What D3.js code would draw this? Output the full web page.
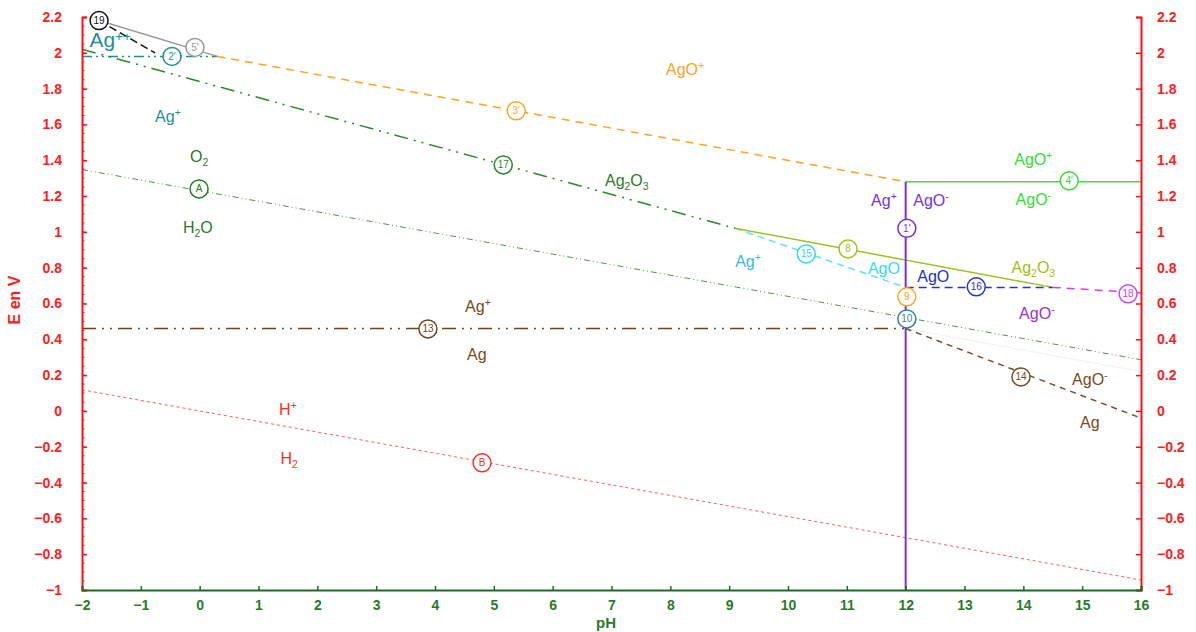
<!DOCTYPE html>
<html>
<head>
<meta charset="utf-8">
<script src="https://cdn.jsdelivr.net/npm/d3@7"></script>
<style>
  body { margin: 0; background: #fff; }
  svg { font-family: "Liberation Sans", Arial, sans-serif; }
</style>
</head>
<body>
<svg id="chart" width="1196" height="632"></svg>
<script>
// axis ranges / ticks
const phTicks = d3.range(-2, 17, 1)
const eTicks = d3.range(-1, 2.21, 0.2).map(v => +v.toFixed(1))

// boundary lines, [pH, E] points
const lineA = [[-2, 1.348], [16, 0.286]]          // O2 / H2O
const lineB = [[-2, 0.118], [16, -0.944]]         // H+ / H2
const line13 = [[-2, 0.46], [12, 0.46]]           // Ag+ / Ag
const line14 = [[12, 0.46], [16, -0.04]]          // AgO- / Ag
const line17 = [[-2, 2.02], [9.1, 1.02]]          // Ag2O3 / Ag+
const line3 = [[0.3, 1.98], [12, 1.28]]           // AgO+ / Ag2O3
const line2 = [[-2, 1.98], [0.3, 1.98]]           // Ag++ / Ag+
const line5 = [[-1.71, 2.18], [0.3, 1.98]]
const line19 = [[-1.71, 2.18], [-0.76, 2.0]]
const line15 = [[9.1, 1.02], [12, 0.69]]          // AgO / Ag+
const line8 = [[9.1, 1.02], [14.5, 0.69]]         // Ag2O3 / AgO
const line16 = [[12, 0.69], [14.5, 0.69]]         // AgO / AgO-
const line18 = [[14.5, 0.69], [16, 0.66]]
const line4 = [[12, 1.28], [16, 1.28]]            // AgO+ / AgO-
const line1 = [[12, 1.28], [12, -1]]              // vertical pH 12
const lineFaint = [[12, 0.46], [16, 0.22]]

// circled markers: [label, pH, E]
const markers = [
  ['19', -1.71, 2.18], ["5'", -0.08, 2.03], ["2'", -0.47, 1.98],
  ["3'", 5.38, 1.676], ['17', 5.16, 1.374], ['A', -0.01, 1.24],
  ["1'", 12.02, 1.02], ['8', 11.02, 0.905], ['15', 10.31, 0.877],
  ["4'", 14.78, 1.285], ['16', 13.2, 0.693], ['18', 15.78, 0.654],
  ['9', 12.02, 0.637], ['10', 12.02, 0.514], ['13', 3.88, 0.458],
  ['14', 13.96, 0.19], ['B', 4.8, -0.29]
]
const markerColors = ['#111', '#999', '#1f8f96', '#ffa322', '#2a8a2a', '#2a7a2a',
  '#7a2fe8', '#a0c020', '#33d8f5', '#33dd33', '#2230dd', '#cc44ee',
  '#ffa322', '#3a7f9a', '#6e4420', '#7a4a2a', '#ff2a2a']

// species labels: [text, pH, E]  (_x subscript, ^x superscript)
const labels = [
  ['Ag^++', -1.52, 2.06], ['Ag^+', -0.54, 1.64], ['O_2', -0.01, 1.42],
  ['H_2O', -0.03, 1.02], ['AgO^+', 8.25, 1.905], ['Ag_2O_3', 7.26, 1.285],
  ['Ag^+', 11.63, 1.17], ['AgO^-', 12.43, 1.17], ['AgO^+', 14.17, 1.40],
  ['AgO^-', 14.17, 1.18], ['Ag_2O_3', 14.17, 0.80], ['Ag^+', 9.32, 0.83],
  ['AgO', 11.63, 0.79], ['AgO', 12.47, 0.75], ['AgO^-', 14.23, 0.54],
  ['Ag^+', 4.73, 0.58], ['Ag', 4.71, 0.31], ['AgO^-', 15.13, 0.17],
  ['Ag', 15.13, -0.07], ['H^+', 1.5, 0.005], ['H_2', 1.52, -0.27]
]
const labelColors = ['#1f8f96', '#1f8f96', '#2a7a2a', '#2a7a2a', '#ffa322', '#2a7a2a',
  '#7a2fe8', '#7a2fe8', '#33dd33', '#33dd33', '#a0c020', '#33b8f0',
  '#33dcee', '#2230c0', '#a030d0', '#7a4a1a', '#7a4a1a', '#7a4a1a',
  '#7a4a1a', '#ff2a2a', '#ff2a2a']

const svg = d3.select('#chart')
const x = d3.scaleLinear().domain([-2, 16]).range([82, 1141])
const y = d3.scaleLinear().domain([-1, 2.2]).range([590, 17])
const line = d3.line().x(d => x(d[0])).y(d => y(d[1]))

// lines
const lines = [
  { pts: lineFaint, color: '#eef2ee', w: 1, dash: null },
  { pts: lineA, color: '#4a9a4a', w: 1, dash: '6,3,1,3,1,3' },
  { pts: lineB, color: '#ff5a5a', w: 1, dash: '3,3' },
  { pts: line13, color: '#6e4420', w: 1.5, dash: '14,6,2,6,2,6' },
  { pts: line14, color: '#7a5030', w: 1.5, dash: '6,5' },
  { pts: line17, color: '#2a8a2a', w: 1.5, dash: '14,6,2,6,2,6' },
  { pts: line3, color: '#ffa322', w: 1.5, dash: '8,6' },
  { pts: line2, color: '#1f8f96', w: 1.5, dash: '10,4,2,4,2,4' },
  { pts: line5, color: '#999', w: 1.5, dash: null },
  { pts: line19, color: '#111', w: 1.5, dash: '8,4' },
  { pts: line15, color: '#66e0f5', w: 1.5, dash: '7,5' },
  { pts: line8, color: '#a0c020', w: 1.5, dash: null },
  { pts: line16, color: '#2230dd', w: 1.5, dash: '8,5' },
  { pts: line18, color: '#cc44ee', w: 1.5, dash: '8,6' },
  { pts: line4, color: '#44dd44', w: 1.5, dash: null },
  { pts: line1, color: '#7a2fe8', w: 2, dash: null }
]

svg.append('g')
  .selectAll('path')
  .data(lines)
  .enter()
  .append('path')
  .attr('d', d => line(d.pts))
  .attr('fill', 'none')
  .attr('stroke', d => d.color)
  .attr('stroke-width', d => d.w)
  .attr('stroke-dasharray', d => d.dash)

// axes
const gLeft = svg.append('g')
  .attr('transform', 'translate(82,0)')
  .call(d3.axisLeft(y).tickValues(eTicks).tickSize(-5).tickPadding(20).tickFormat(d3.format('~g')))
const gRight = svg.append('g')
  .attr('transform', 'translate(1141,0)')
  .call(d3.axisRight(y).tickValues(eTicks).tickSize(-5).tickPadding(16).tickFormat(d3.format('~g')))
const gBottom = svg.append('g')
  .attr('transform', 'translate(0,590)')
  .call(d3.axisBottom(x).tickValues(phTicks).tickSize(-4).tickPadding(10).tickFormat(d3.format('d')))

for (const g of [gLeft, gRight]) {
  g.select('.domain').attr('stroke', '#ff1010').attr('stroke-width', 2)
  g.selectAll('.tick line').attr('stroke', '#ff1010').attr('stroke-width', 1.5)
  g.selectAll('text').attr('fill', '#ff2020').attr('font-size', 14).attr('font-weight', 'bold')
    .attr('font-family', '"Liberation Sans", Arial, sans-serif')
}
gBottom.select('.domain').attr('stroke', '#1a6e1a').attr('stroke-width', 2)
gBottom.selectAll('.tick line').attr('stroke', '#1a6e1a').attr('stroke-width', 1.5)
gBottom.selectAll('text').attr('fill', '#2a7a2a').attr('font-size', 14).attr('font-weight', 'bold')
  .attr('font-family', '"Liberation Sans", Arial, sans-serif')

// minor ticks on the left axis
svg.append('g')
  .selectAll('line')
  .data(d3.range(-1, 2.2, 0.05))
  .enter()
  .append('line')
  .attr('x1', 82).attr('x2', 84.5)
  .attr('y1', d => y(d)).attr('y2', d => y(d))
  .attr('stroke', '#ff1010')
  .attr('stroke-width', 1)

// axis titles
svg.append('text')
  .attr('transform', 'translate(20,300) rotate(-90)')
  .attr('text-anchor', 'middle')
  .attr('fill', '#ff2020')
  .attr('font-size', 16)
  .attr('font-weight', 'bold')
  .text('E en V')
svg.append('text')
  .attr('x', 606).attr('y', 628)
  .attr('text-anchor', 'middle')
  .attr('fill', '#2a7a2a')
  .attr('font-size', 15)
  .attr('font-weight', 'bold')
  .text('pH')

// species labels
const lbl = svg.append('g')
  .selectAll('text')
  .data(labels)
  .enter()
  .append('text')
  .attr('x', d => x(d[1]))
  .attr('y', d => y(d[2]) + 5)
  .attr('text-anchor', 'middle')
  .attr('fill', (d, i) => labelColors[i])
  .attr('font-size', (d, i) => i === 0 ? 21 : 16)

lbl.each(function (d) {
  const t = d3.select(this)
  const parts = d[0].match(/_[0-9]+|\^[+-]+|[^_^]+/g)
  let shift = 0
  parts.forEach(p => {
    if (p[0] === '_' || p[0] === '^') {
      const dy = p[0] === '_' ? 4 : -6
      t.append('tspan').attr('dy', dy - shift).attr('font-size', '0.65em').text(p.slice(1))
      shift = dy
    } else {
      t.append('tspan').attr('dy', -shift).text(p)
      shift = 0
    }
  })
})

// circled markers
const mk = svg.append('g')
  .selectAll('g')
  .data(markers)
  .enter()
  .append('g')
  .attr('transform', d => `translate(${x(d[1])},${y(d[2])})`)

mk.append('circle')
  .attr('r', 9)
  .attr('fill', '#fff')
  .attr('stroke', (d, i) => markerColors[i])
  .attr('stroke-width', 1.5)

mk.append('text')
  .attr('text-anchor', 'middle')
  .attr('dy', '0.35em')
  .attr('font-size', 10)
  .attr('fill', (d, i) => markerColors[i])
  .text(d => d[0])
</script>
</body>
</html>
